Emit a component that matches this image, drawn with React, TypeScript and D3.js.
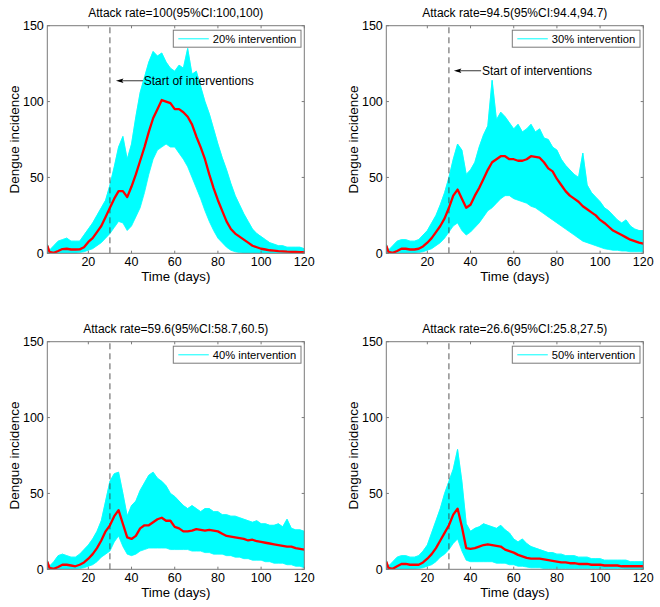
import React from 'react';
import * as d3 from 'd3';

const DAYS = [1, 2, 4, 6, 8, 10, 12, 14, 16, 18, 20, 22, 24, 26, 28, 30, 32, 34, 36, 38, 40, 42, 44, 46, 48, 50, 52, 54, 56, 58, 60, 62, 64, 66, 68, 70, 72, 74, 76, 78, 80, 82, 84, 86, 88, 90, 92, 94, 96, 98, 100, 102, 104, 106, 108, 110, 112, 114, 116, 118, 120];

const TITLES = [
  'Attack rate=100(95%CI:100,100)',
  'Attack rate=94.5(95%CI:94.4,94.7)',
  'Attack rate=59.6(95%CI:58.7,60.5)',
  'Attack rate=26.6(95%CI:25.8,27.5)',
];
const LEGENDS = ['20% intervention', '30% intervention', '40% intervention', '50% intervention'];
const X_TICKS = [20, 40, 60, 80, 100, 120];
const Y_TICKS = [0, 50, 100, 150];
const INTERVENTION_DAY = 30;
const ANNOTATION_TEXT = 'Start of interventions';
const ANNO_TIP_DAY = [32.8, 32.3];
const ANNO_TAIL_DAY = [45.3, 44.9];
const ANNO_VALUE = [113.7, 120.3];

// 20% intervention
const MEAN_20 = [5, 1, 0.3, 1.5, 2.8, 3, 2.5, 2.5, 2.6, 4,
  7.5, 10, 14, 18, 24, 30, 36, 41, 41, 37,
  44, 52, 61, 70, 80, 89, 95, 101, 100, 99,
  95, 95, 93, 90, 85, 77, 70, 62, 52, 43,
  35, 28, 21, 16, 13, 11, 9, 7, 5, 4,
  3, 2.5, 2, 1.8, 1.5, 1.3, 1.1, 1, 0.9, 0.8, 0.7];
const UPPER_20 = [6, 2, 5, 8, 9, 10, 8, 8, 8, 12,
  16, 20, 25, 30, 35, 45, 57, 70, 77, 62,
  72, 90, 106, 116, 126, 133, 130, 132, 126, 122,
  120, 124, 122, 135, 118, 120, 110, 100, 92, 82,
  72, 63, 55, 46, 38, 32, 26, 21, 16, 13,
  11, 9, 7, 6, 5, 5, 4, 4, 4, 4, 3];
const LOWER_20 = [0, 0, 0, 0, 0, 0, 0, 0, 0.5, 1,
  2, 3, 5, 7, 10, 13, 17, 21, 20, 15,
  18, 24, 30, 40, 52, 62, 68, 70, 72, 70,
  70, 66, 62, 57, 50, 43, 36, 28, 21, 15,
  10, 7, 4, 2, 1, 0.5, 0, 0, 0, 0,
  0, 0, 0, 0, 0, 0, 0, 0, 0, 0, 0];

// 30% intervention
const MEAN_30 = [5, 1, 0.3, 1.5, 3, 3, 2.5, 2.5, 3, 4.5,
  7, 10, 14, 18, 23, 30, 38, 42, 36, 30,
  32, 38, 43, 49, 55, 60, 62, 64, 64, 62,
  62, 61, 61, 62, 64, 63.5, 63, 60, 56, 54,
  49, 45, 41, 38, 36, 34, 31, 29, 27, 25,
  22, 20, 17.5, 15, 13.5, 12, 10.5, 9, 8, 7, 6.3];
const UPPER_30 = [6, 2, 5, 8, 9, 9, 8, 8, 9, 12,
  15, 20, 25, 32, 40, 50, 62, 72, 68, 52,
  55, 60, 70, 78, 84, 114, 88, 93, 90, 86,
  82, 85, 80, 82, 85, 80, 82, 76, 75, 70,
  68, 62, 58, 55, 52, 50, 66, 45, 40, 37,
  34, 30, 28, 25, 22, 20, 22, 18, 16, 15, 15];
const LOWER_30 = [0, 0, 0, 0, 0, 0, 0, 0, 0.5, 1,
  2, 3, 5, 7, 10, 14, 18, 20, 15, 12,
  14, 17, 20, 24, 28, 30, 33, 36, 38, 38,
  36, 35, 34, 33, 31, 30, 28, 26, 24, 22,
  20, 18, 16, 14, 12, 10, 8, 7, 6, 5,
  4, 3, 2.5, 2, 2, 1.5, 1.5, 1, 1, 1, 1];

// 40% intervention
const MEAN_40 = [5, 1, 0.3, 1.5, 3, 3, 2.5, 2, 3, 4.5,
  7, 10, 14, 19, 25, 29, 35, 39, 30, 21,
  20, 22, 27, 29, 29, 31, 33, 34, 32, 32,
  28, 27, 25, 25, 25.5, 26.5, 26, 25.5, 26, 25.5,
  25, 23.5, 22, 21.5, 21, 20.5, 20, 19, 19.5, 18.5,
  18, 17.5, 17, 16.5, 16, 15.5, 15, 15, 14, 13.5, 13];
const UPPER_40 = [6, 2, 5, 9, 10, 9, 8, 8, 10, 13,
  16, 20, 25, 32, 45, 58, 63, 64, 50, 35,
  42, 45, 52, 57, 62, 64, 60, 58, 55, 50,
  48, 45, 42, 40, 42, 40, 38, 40, 40, 38,
  38, 36, 36, 35, 35, 34, 33, 32, 31, 32,
  30, 30, 29, 29, 30, 28, 33, 27, 26, 26, 25];
const LOWER_40 = [0, 0, 0, 0, 0, 0, 0, 0, 0.5, 1,
  2, 3, 5, 8, 10, 12, 18, 22, 15, 10,
  9, 10, 12, 13, 14, 14, 14, 14, 14, 13,
  13, 13, 13, 13, 12, 12, 12, 11, 11, 10,
  10, 10, 9, 9, 8, 8, 7, 7, 6, 6,
  6, 5, 5, 4, 4, 4, 3, 3, 2, 2, 1];

// 50% intervention
const MEAN_50 = [5, 1, 0.3, 2, 3.5, 3.5, 3, 3, 3, 4.5,
  7, 10, 14, 19, 24, 29, 36, 40, 28, 14,
  13.5, 14, 15, 16, 16.5, 16, 15.5, 15, 13, 12,
  11, 9.5, 8.5, 7.5, 7, 7, 7, 6.5, 6, 5.5,
  5, 4.5, 4.5, 4, 4, 3.5, 3.5, 3.5, 3, 3,
  3, 2.5, 2.5, 2.5, 2.5, 2, 2, 2, 2, 2, 2];
const UPPER_50 = [6, 2, 5, 8, 9, 9, 8, 8, 9, 12,
  16, 24, 32, 40, 50, 58, 66, 79, 58, 30,
  25, 27, 28, 30, 29, 28, 27, 29, 26, 24,
  20, 18, 20, 17, 15, 14, 13, 12, 11, 11,
  10, 10, 9, 9, 9, 8, 8, 8, 7, 7,
  7, 6, 6, 6, 6, 6, 6, 5, 5, 5, 5];
const LOWER_50 = [0, 0, 0, 0, 0, 0, 0, 0, 0.5, 1,
  2, 3, 5, 8, 10, 13, 17, 20, 12, 6,
  5, 5, 5, 5, 5, 5, 4, 4, 4, 3,
  3, 2, 2, 1.5, 1, 1, 1, 0.5, 0.5, 0.5,
  0.5, 0.5, 0.5, 0.5, 0.5, 0.5, 0.5, 0.5, 0.5, 0.5,
  0.5, 0.5, 0.5, 0.5, 0.5, 0.5, 0, 0, 0, 0, 0];

const MEANS = [MEAN_20, MEAN_30, MEAN_40, MEAN_50];
const UPPERS = [UPPER_20, UPPER_30, UPPER_40, UPPER_50];
const LOWERS = [LOWER_20, LOWER_30, LOWER_40, LOWER_50];

const W = 257;
const H = 227.6;
const ORIGINS: [number, number][] = [[47.3, 25.7], [386.3, 25.7], [47.3, 341.7], [386.3, 341.7]];
const FONT = '"Liberation Sans", Arial, Helvetica, sans-serif';
const AXIS_COLOR = '#7a7a7a';
const CYAN = '#00ffff';
const RED = '#ff0000';

function Panel({ i }: { i: number }) {
  const [ox, oy] = ORIGINS[i];
  const x = d3.scaleLinear().domain([1, 120]).range([0, W]);
  const y = d3.scaleLinear().domain([0, 150]).range([H, 0]);
  const idx = DAYS.map((_, k) => k);
  const area = d3.area<number>()
    .x((k) => x(DAYS[k]))
    .y0((k) => y(LOWERS[i][k]))
    .y1((k) => y(UPPERS[i][k]));
  const line = d3.line<number>()
    .x((k) => x(DAYS[k]))
    .y((k) => y(MEANS[i][k]));
  const upperLine = d3.line<number>().x((k) => x(DAYS[k])).y((k) => y(UPPERS[i][k]));
  const clipId = `clip${i}`;
  const tick = 2.6;
  const legW = 127.7;
  const legH = 17;
  const legX = W - 3.3 - legW;
  const legY = 4.5;
  return (
    <g transform={`translate(${ox},${oy})`} fontFamily={FONT}>
      <defs>
        <clipPath id={clipId}>
          <rect x={0} y={0} width={W} height={H} />
        </clipPath>
      </defs>
      <rect x={0} y={0} width={W} height={H} fill="#fff" />
      <g clipPath={`url(#${clipId})`}>
        <path d={area(idx) || ''} fill={CYAN} stroke={CYAN} strokeWidth={0.8} strokeLinejoin="round" />
        <path d={upperLine(idx) || ''} fill="none" stroke={CYAN} strokeWidth={0.6} />
        <line x1={x(INTERVENTION_DAY)} x2={x(INTERVENTION_DAY)} y1={y(0)} y2={y(150)}
          stroke="#444" strokeWidth={0.9} strokeDasharray="6,4" />
        <path d={line(idx) || ''} fill="none" stroke={RED} strokeWidth={2.3} strokeLinejoin="round" />
      </g>
      {/* axes box */}
      <rect x={0} y={0} width={W} height={H} fill="none" stroke={AXIS_COLOR} strokeWidth={1} />
      {X_TICKS.map((t) => (
        <g key={`xt${t}`}>
          <line x1={x(t)} x2={x(t)} y1={H} y2={H - tick} stroke={AXIS_COLOR} />
          <line x1={x(t)} x2={x(t)} y1={0} y2={tick} stroke={AXIS_COLOR} />
          <text x={x(t)} y={H + 12.4} fontSize={12.5} textAnchor="middle" fill="#000">{t}</text>
        </g>
      ))}
      {Y_TICKS.map((t) => (
        <g key={`yt${t}`}>
          <line x1={0} x2={tick} y1={y(t)} y2={y(t)} stroke={AXIS_COLOR} />
          <line x1={W - tick} x2={W} y1={y(t)} y2={y(t)} stroke={AXIS_COLOR} />
          <text x={-3.5} y={y(t) + 4.4} fontSize={12.5} textAnchor="end" fill="#000">{t}</text>
        </g>
      ))}
      <text x={W / 2} y={-8.5} fontSize={12} textAnchor="middle" fill="#000">{TITLES[i]}</text>
      <text x={W / 2} y={H + 27.4} fontSize={13.2} textAnchor="middle" fill="#000">Time (days)</text>
      <text transform={`translate(${-28.5},${H / 2}) rotate(-90)`} fontSize={13.5} textAnchor="middle" fill="#000">Dengue incidence</text>
      {/* legend */}
      <rect x={legX} y={legY} width={legW} height={legH} fill="#fff" stroke={AXIS_COLOR} strokeWidth={1} />
      <line x1={legX + 5} x2={legX + 35.5} y1={legY + 8.6} y2={legY + 8.6} stroke={CYAN} strokeWidth={1} />
      <text x={legX + 39.5} y={legY + 12.6} fontSize={11.2} fill="#000">{LEGENDS[i]}</text>
      {i < 2 && (
        <g>
          <line x1={x(ANNO_TAIL_DAY[i])} x2={x(ANNO_TIP_DAY[i]) + 3} y1={y(ANNO_VALUE[i])} y2={y(ANNO_VALUE[i])} stroke="#000" strokeWidth={0.8} />
          <path d={`M${x(ANNO_TIP_DAY[i])},${y(ANNO_VALUE[i])} l7.5,-2.2 l-1.5,2.2 l1.5,2.2 z`} fill="#000" />
          <text x={x(ANNO_TAIL_DAY[i]) + 0.8} y={y(ANNO_VALUE[i]) + 4.3} fontSize={12} fill="#000">{ANNOTATION_TEXT}</text>
        </g>
      )}
    </g>
  );
}

export default function App() {
  return (
    <svg width={660} height={607} style={{ position: 'absolute', left: 0, top: 0, background: '#fff' }}>
      <rect x={0} y={0} width={660} height={607} fill="#fff" />
      {[0, 1, 2, 3].map((i) => <Panel key={i} i={i} />)}
    </svg>
  );
}
